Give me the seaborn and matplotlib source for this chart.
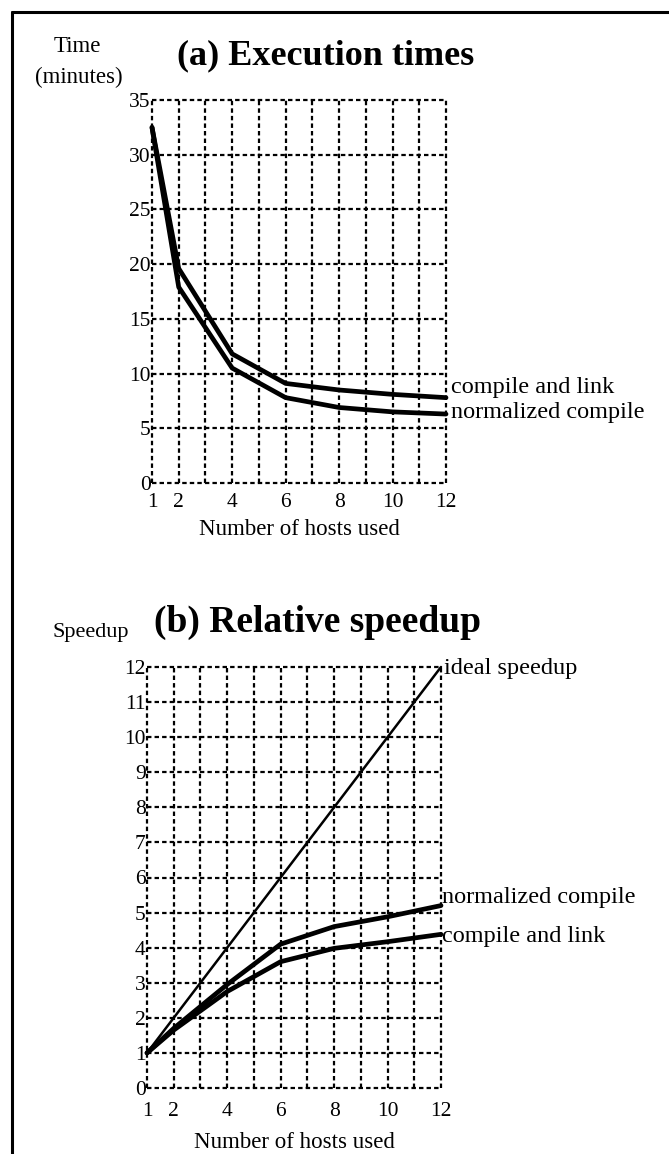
import numpy as np
import pandas as pd
import seaborn as sns
import matplotlib.pyplot as plt
from matplotlib.lines import Line2D

# ---- data ----
hosts = [1, 2, 4, 6, 8, 10, 12]

# (a) execution times, minutes
time_compile_link = [32.5, 19.6, 11.8, 9.1, 8.5, 8.1, 7.8]
time_normalized = [32.5, 17.9, 10.5, 7.8, 6.9, 6.5, 6.3]

# (b) relative speedup
speedup_ideal = [1, 2, 4, 6, 8, 10, 12]
speedup_normalized = [1.0, 1.7, 2.95, 4.1, 4.6, 4.88, 5.2]
speedup_compile_link = [1.0, 1.65, 2.75, 3.6, 3.98, 4.17, 4.38]

x_ticks = [1, 2, 4, 6, 8, 10, 12]
x_minor = [3, 5, 7, 9, 11]
y_ticks_a = [0, 5, 10, 15, 20, 25, 30, 35]
y_ticks_b = list(range(0, 13))

sns.set_style("white")
plt.rcParams['font.family'] = ['Liberation Serif', 'DejaVu Serif']
plt.rcParams['text.color'] = 'black'
plt.rcParams['axes.labelcolor'] = 'black'
plt.rcParams['xtick.color'] = 'black'
plt.rcParams['ytick.color'] = 'black'

W, H = 669, 1154
fig = plt.figure(figsize=(W / 100, H / 100), dpi=100)


def px_axes(x0, x1, y0, y1):
    # axes box from pixel coords (top-left origin)
    return fig.add_axes([x0 / W, 1 - y1 / H, (x1 - x0) / W, (y1 - y0) / H])


def style_axes(ax, ymax, yticks, xpad, labelpad):
    ax.set_xlim(1, 12)
    ax.set_ylim(0, ymax)
    ax.set_xticks(x_ticks)
    ax.set_xticks(x_minor, minor=True)
    ax.set_yticks(yticks)
    ax.tick_params(axis='both', which='both', length=0, labelsize=15.5)
    ax.tick_params(axis='x', pad=xpad)
    ax.tick_params(axis='y', pad=1)
    ax.grid(True, which='both', color='black', linestyle=(0, (2.0, 1.4)), linewidth=1.6)
    ax.set_axisbelow(True)
    # dotted frame = grid lines on the limits, keep them whole
    for gl in ax.get_xgridlines() + ax.get_ygridlines():
        gl.set_clip_on(False)
    for gl in ax.xaxis.get_minorticklines():
        pass
    for t in ax.xaxis.get_minor_ticks():
        t.gridline.set_clip_on(False)
    for s in ax.spines.values():
        s.set_visible(False)
    ax.set_xlabel('Number of hosts used', fontsize=16.5, labelpad=labelpad)
    ax.set_ylabel('')


# ---- (a) Execution times ----
ax_a = px_axes(152, 446, 100, 483)
df_a = pd.DataFrame({
    'hosts': hosts * 2,
    'time': time_compile_link + time_normalized,
    'series': ['compile and link'] * len(hosts) + ['normalized compile'] * len(hosts),
})
sns.lineplot(data=df_a, x='hosts', y='time', units='series', estimator=None,
             color='black', linewidth=3.4, ax=ax_a, clip_on=False)
style_axes(ax_a, 35, y_ticks_a, xpad=7, labelpad=5)
ax_a.text(12.2, time_compile_link[-1] + 0.9, 'compile and link', fontsize=17.5,
          ha='left', va='center')
ax_a.text(12.2, time_normalized[-1] + 0.1, 'normalized compile', fontsize=17.5,
          ha='left', va='center')

# ---- (b) Relative speedup ----
ax_b = px_axes(147, 441, 667, 1088)
df_b = pd.DataFrame({
    'hosts': hosts * 2,
    'speedup': speedup_normalized + speedup_compile_link,
    'series': ['normalized compile'] * len(hosts) + ['compile and link'] * len(hosts),
})
sns.lineplot(x=hosts, y=speedup_ideal, color='black', linewidth=1.8, ax=ax_b, clip_on=False)
sns.lineplot(data=df_b, x='hosts', y='speedup', units='series', estimator=None,
             color='black', linewidth=3.4, ax=ax_b, clip_on=False)
style_axes(ax_b, 12, y_ticks_b, xpad=10, labelpad=8)
ax_b.text(12.1, speedup_ideal[-1] - 0.05, 'ideal speedup', fontsize=17.5, ha='left', va='center')
ax_b.text(12.05, speedup_normalized[-1] + 0.22, 'normalized compile', fontsize=17.5,
          ha='left', va='center')
ax_b.text(12.05, speedup_compile_link[-1] - 0.05, 'compile and link', fontsize=17.5,
          ha='left', va='center')

# titles and axis captions
fig.text(326 / W, 1 - 56 / H, '(a) Execution times', fontsize=26, fontweight='bold',
         ha='center', va='center')
fig.text(318 / W, 1 - 622 / H, '(b) Relative speedup', fontsize=27, fontweight='bold',
         ha='center', va='center')
fig.text(77 / W, 1 - 46 / H, 'Time', fontsize=16.5, ha='center', va='center')
fig.text(79 / W, 1 - 77 / H, '(minutes)', fontsize=16.5, ha='center', va='center')
fig.text(91 / W, 1 - 632 / H, 'Speedup', fontsize=16, ha='center', va='center')

# outer frame (left and top edges of the page box)
fig.add_artist(Line2D([12 / W, 12 / W], [0, 1 - 12 / H], color='black', linewidth=2.2))
fig.add_artist(Line2D([12 / W, 1], [1 - 12 / H, 1 - 12 / H], color='black', linewidth=2.2))

fig.savefig('out.png', dpi=100)
